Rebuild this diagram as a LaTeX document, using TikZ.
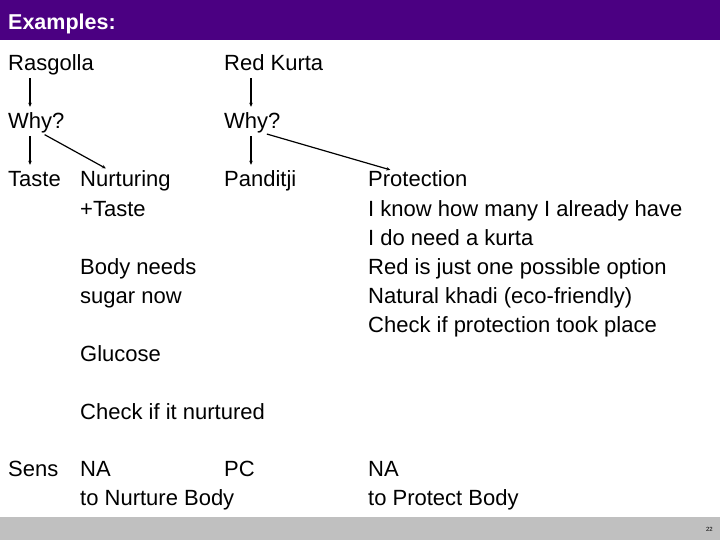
\documentclass[tikz,border=0pt]{standalone}
\usepackage{fontspec}
\setmainfont{Liberation Sans}
\usetikzlibrary{arrows.meta, calc}
\definecolor{mypurple}{RGB}{75, 0, 130}
\definecolor{mygray}{RGB}{192, 192, 192}

\begin{document}
\begin{tikzpicture}[x=1pt, y=-1pt,
    txt/.style={anchor=base west, inner sep=0pt, font=\fontsize{22}{29}\selectfont,
                text height=15pt, text depth=4pt},
    arr/.style={-{Stealth[length=4pt, width=3.5pt]}, line width=1.2pt,
                shorten <=3pt, shorten >=7pt}]
    % Page and bars
    \useasboundingbox (0,0) rectangle (720,540);
    \fill[mypurple] (0,0) rectangle (720,40);
    \fill[mygray] (0,517) rectangle (720,540);
    \node[anchor=base west, inner sep=0pt, text=white,
          font=\fontsize{21.5}{24}\selectfont\bfseries] (title) at (8,30) {Examples:};
    \node[anchor=base east, inner sep=0pt, font=\fontsize{6}{7}\selectfont] (pagenum) at (713,531) {22};

    % Left column: Rasgolla
    \node[txt] (rasg) at (8,71) {Rasgolla};
    \node[txt] (whyL) at (8,129) {Why?};
    \node[txt] (taste) at (8,187) {Taste};
    \node[txt] (nurt) at (80,187) {Nurturing};
    \node[txt] (plustaste) at (80,216) {+Taste};
    \node[txt] (body) at (80,274) {Body needs};
    \node[txt] (sugar) at (80,303) {sugar now};
    \node[txt] (gluc) at (80,361) {Glucose};
    \node[txt] (checkN) at (80,419) {Check if it nurtured};

    % Right column: Red Kurta
    \node[txt] (kurta) at (224,71) {Red Kurta};
    \node[txt] (whyR) at (224,129) {Why?};
    \node[txt] (pandit) at (224,187) {Panditji};
    \node[txt] (prot) at (368,187) {Protection};
    \node[txt] (prot2) at (368,216) {I know how many I already have};
    \node[txt] (prot3) at (368,245) {I do need a kurta};
    \node[txt] (prot4) at (368,274) {Red is just one possible option};
    \node[txt] (prot5) at (368,303) {Natural khadi (eco-friendly)};
    \node[txt] (prot6) at (368,332) {Check if protection took place};

    % Bottom row
    \node[txt] (sens) at (8,476) {Sens};
    \node[txt] (naL) at (80,476) {NA};
    \node[txt] (pc) at (224,476) {PC};
    \node[txt] (naR) at (368,476) {NA};
    \node[txt] (nurtB) at (80,505) {to Nurture Body};
    \node[txt] (protB) at (368,505) {to Protect Body};

    % Arrows
    \draw[arr] ([xshift=22pt]rasg.south west) -- ([xshift=22pt]whyL.north west);
    \draw[arr] ([xshift=22pt]whyL.south west) -- ([xshift=22pt]taste.north west);
    \draw[arr] ([xshift=34pt]whyL.south west) -- ([xshift=32pt]nurt.north west);
    \draw[arr] ([xshift=27pt]kurta.south west) -- ([xshift=27pt]whyR.north west);
    \draw[arr] ([xshift=27pt]whyR.south west) -- ([xshift=27pt]pandit.north west);
    \draw[arr] ([xshift=40pt]whyR.south west) -- ([xshift=29pt]prot.north west);
\end{tikzpicture}
\end{document}
